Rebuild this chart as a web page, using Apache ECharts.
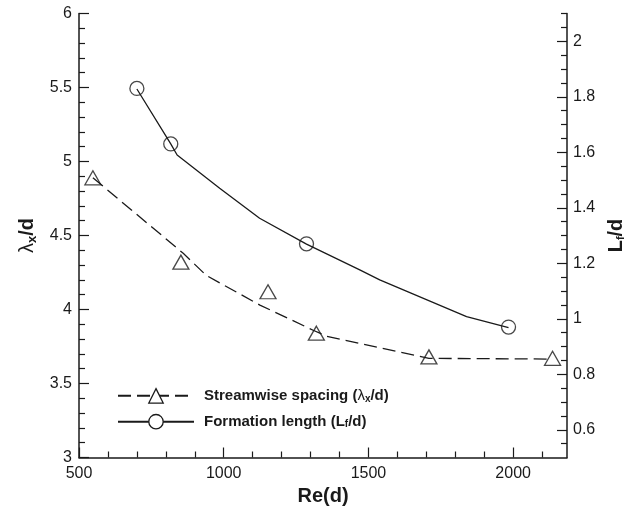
<!DOCTYPE html>
<html>
<head>
<meta charset="utf-8">
<script src="https://cdn.jsdelivr.net/npm/echarts@6/dist/echarts.min.js"></script>
<style>
html,body{margin:0;padding:0;background:#fff;}
#chart{width:640px;height:513px;}
</style>
</head>
<body>
<div id="chart"></div>
<script>
// Tick values
const reTicksMajor = [500, 1000, 1500, 2000];
const reTicksMinor = [600, 700, 800, 900, 1100, 1200, 1300, 1400, 1600, 1700, 1800, 1900, 2100];
const lfTicksMajor = [0.6, 0.8, 1.0, 1.2, 1.4, 1.6, 1.8, 2.0];
const lfTicksMinor = [0.55, 0.65, 0.7, 0.75, 0.85, 0.9, 0.95, 1.05, 1.1, 1.15, 1.25, 1.3, 1.35, 1.45, 1.5, 1.55, 1.65, 1.7, 1.75, 1.85, 1.9, 1.95, 2.05, 2.1];

// Streamwise spacing (lambda_x/d) markers
const triRe = [548, 852, 1153, 1320, 1709, 2136];
const triLambda = [4.89, 4.32, 4.12, 3.84, 3.68, 3.67];
// Streamwise spacing fitted (dashed) curve
const fitRe = [548, 860, 940, 1125, 1309, 1355, 1470, 1709, 2136];
const fitLambda = [4.89, 4.38, 4.23, 4.03, 3.86, 3.82, 3.77, 3.67, 3.665];

// Formation length (L_f/d) markers
const circRe = [700, 817, 1286, 1984];
const circLf = [1.83, 1.63, 1.27, 0.97];
// Formation length curve (solid)
const lenRe = [700, 817, 839, 986, 1124, 1286, 1470, 1539, 1839, 1984];
const lenLf = [1.828, 1.630, 1.590, 1.470, 1.362, 1.269, 1.176, 1.140, 1.008, 0.968];

const zip = (a, b) => a.map((v, i) => [v, b[i]]);
const FONT = 'Liberation Sans, Arial, Helvetica, sans-serif';
const INK = '#1a1a1a';

const chart = echarts.init(document.getElementById('chart'), null, {renderer: 'canvas'});

const baseAxisLine = {show: true, onZero: false, lineStyle: {color: INK, width: 1.5}};
const hidden = {show: false};

chart.setOption({
  animation: false,
  backgroundColor: '#fff',
  grid: {left: 79, right: 73, top: 13.5, bottom: 55.5, containLabel: false},
  xAxis: [
    {
      type: 'value', position: 'bottom', min: 500, max: 2186,
      axisLine: baseAxisLine,
      axisTick: {show: true, inside: true, length: 10, customValues: reTicksMajor, lineStyle: {color: INK, width: 1.2}},
      axisLabel: {show: true, customValues: reTicksMajor, margin: 8, fontFamily: FONT, fontSize: 16, color: INK,
        formatter: function (v) { return String(v); }},
      splitLine: hidden,
      name: 'Re(d)', nameLocation: 'middle', nameGap: 28,
      nameTextStyle: {fontFamily: FONT, fontSize: 20, fontWeight: 'bold', color: INK}
    },
    {
      type: 'value', position: 'bottom', min: 500, max: 2186,
      axisLine: {show: false, onZero: false},
      axisTick: {show: true, inside: true, length: 6, customValues: reTicksMinor, lineStyle: {color: INK, width: 1.2}},
      axisLabel: hidden, splitLine: hidden
    }
  ],
  yAxis: [
    {
      type: 'value', position: 'left', min: 3, max: 6, interval: 0.5,
      axisLine: baseAxisLine,
      axisTick: {show: true, inside: true, length: 10, lineStyle: {color: INK, width: 1.2}},
      minorTick: {show: true, splitNumber: 5, length: 6, lineStyle: {color: INK, width: 1.2}},
      axisLabel: {show: true, margin: 7, fontFamily: FONT, fontSize: 16, color: INK},
      splitLine: hidden,
      name: '{l|λ}{s|x}{b|/d}', nameLocation: 'middle', nameGap: 40, nameRotate: 90,
      nameTextStyle: {
        color: INK,
        rich: {
          l: {fontFamily: FONT, fontSize: 20, color: INK},
          s: {fontFamily: FONT, fontSize: 13, fontWeight: 'bold', color: INK, padding: [9, 0, 0, 0]},
          b: {fontFamily: FONT, fontSize: 20, fontWeight: 'bold', color: INK}
        }
      }
    },
    {
      type: 'value', position: 'right', min: 0.5, max: 2.1,
      axisLine: baseAxisLine,
      axisTick: {show: true, inside: true, length: 10, customValues: lfTicksMajor, lineStyle: {color: INK, width: 1.2}},
      axisLabel: {show: true, customValues: lfTicksMajor, margin: 6, fontFamily: FONT, fontSize: 16, color: INK},
      splitLine: hidden,
      name: '{b|L}{s|f}{b|/d}', nameLocation: 'middle', nameGap: 35, nameRotate: 90,
      nameTextStyle: {
        color: INK,
        rich: {
          s: {fontFamily: FONT, fontSize: 11, fontWeight: 'bold', color: INK, padding: [9, 0, 0, 0]},
          b: {fontFamily: FONT, fontSize: 20, fontWeight: 'bold', color: INK}
        }
      }
    },
    {
      type: 'value', position: 'right', min: 0.5, max: 2.1,
      axisLine: {show: false, onZero: false},
      axisTick: {show: true, inside: true, length: 6, customValues: lfTicksMinor, lineStyle: {color: INK, width: 1.2}},
      axisLabel: hidden, splitLine: hidden
    }
  ],
  legend: {
    show: true, orient: 'vertical', left: 112, top: 383,
    selectedMode: false,
    itemWidth: 76, itemHeight: 18, itemGap: 10,
    data: ['Streamwise spacing', 'Formation length'],
    itemStyle: {color: '#fff', borderColor: INK, borderWidth: 1.3},
    formatter: function (name) {
      if (name === 'Streamwise spacing') return '{b|Streamwise spacing (}{l|λ}{s|x}{b|/d)}';
      return '{b|Formation length (L}{s|f}{b|/d)}';
    },
    textStyle: {
      padding: [0, 0, 0, 5],
      rich: {
        b: {fontFamily: FONT, fontSize: 15, fontWeight: 'bold', color: INK},
        l: {fontFamily: FONT, fontSize: 15, color: INK},
        s: {fontFamily: FONT, fontSize: 10, fontWeight: 'bold', color: INK, padding: [6, 0, 0, 0]}
      }
    }
  },
  series: [
    {
      name: 'Streamwise spacing', type: 'line', xAxisIndex: 0, yAxisIndex: 0,
      data: zip(fitRe, fitLambda),
      symbol: 'triangle', showSymbol: false, smooth: false,
      lineStyle: {color: INK, width: 1.3, type: [13, 6]},
      itemStyle: {color: '#fff', borderColor: INK, borderWidth: 1.3},
      z: 2
    },
    {
      name: 'tri', type: 'scatter', xAxisIndex: 0, yAxisIndex: 0,
      data: zip(triRe, triLambda),
      symbol: 'triangle', symbolSize: [16, 14],
      itemStyle: {color: 'rgba(0,0,0,0)', borderColor: INK, borderWidth: 1.3},
      z: 3
    },
    {
      name: 'Formation length', type: 'line', xAxisIndex: 0, yAxisIndex: 1,
      data: zip(lenRe, lenLf),
      symbol: 'circle', showSymbol: false, smooth: false,
      lineStyle: {color: INK, width: 1.3, type: 'solid'},
      itemStyle: {color: '#fff', borderColor: INK, borderWidth: 1.3},
      z: 2
    },
    {
      name: 'circ', type: 'scatter', xAxisIndex: 0, yAxisIndex: 1,
      data: zip(circRe, circLf),
      symbol: 'circle', symbolSize: 14,
      itemStyle: {color: 'rgba(0,0,0,0)', borderColor: INK, borderWidth: 1.3},
      z: 3
    }
  ]
});
</script>
</body>
</html>
